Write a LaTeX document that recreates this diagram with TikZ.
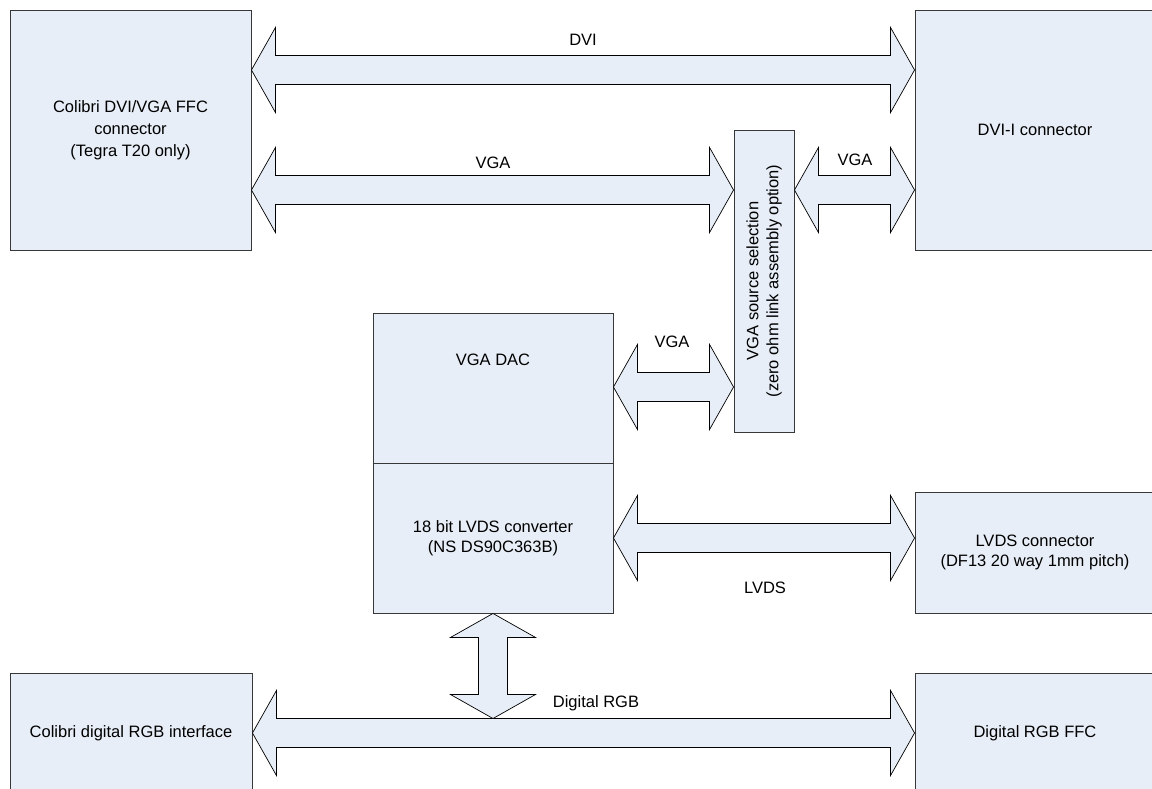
\documentclass[tikz,border=0pt]{standalone}
\usepackage{fontspec}
\setmainfont{Liberation Sans}
\usetikzlibrary{calc}
\definecolor{fillc}{RGB}{232,238,247}
\definecolor{linec}{RGB}{55,55,55}
\tikzset{
  box/.style={draw=linec, fill=fillc, line width=0.9pt, inner sep=0pt, align=center, font=\fontsize{16.5}{20}\selectfont},
  arr/.style={draw=black, fill=fillc, line width=0.7pt, line join=miter},
  lbl/.style={font=\fontsize{16.5}{20}\selectfont, inner sep=0pt},
}
\newcommand{\dblH}[2]{\draw[arr] let \p1=#1, \p2=#2 in
  (\x1,\y1) -- ++(24pt,42.5pt) -- ++(0,-28pt) -- (\x2-24pt,\y1+14.5pt) -- ++(0,28pt)
  -- (\x2,\y1) -- ++(-24pt,-42.5pt) -- ++(0,28pt) -- (\x1+24pt,\y1-14.5pt) -- ++(0,-28pt) -- cycle;}
\newcommand{\dblV}[2]{\draw[arr] let \p1=#1, \p2=#2 in
  (\x1,\y1) -- ++(42.5pt,-24pt) -- ++(-28pt,0) -- (\x1+14.5pt,\y2+24pt) -- ++(28pt,0)
  -- (\x1,\y2) -- ++(-42.5pt,24pt) -- ++(28pt,0) -- (\x1-14.5pt,\y1-24pt) -- ++(-28pt,0) -- cycle;}
\begin{document}
\begin{tikzpicture}[x=1pt,y=-1pt]
\fill[white] (0,0) rectangle (1152,789);
\clip (0,0) rectangle (1152,789);
% boxes
\node[box, minimum width=241pt, minimum height=240pt, font=\fontsize{16.5}{22}\selectfont] (A) at (130.5,130) {Colibri DVI/VGA FFC\\connector\\(Tegra T20 only)};
\node[box, minimum width=240pt, minimum height=240pt] (B) at (1035,130) {DVI-I connector};
\node[box, rotate=90, minimum width=302pt, minimum height=60pt] (S) at (764,281) {VGA source selection\\(zero ohm link assembly option)};
\node[box, minimum width=240pt, minimum height=150pt] (D) at (493,388) {};
\node[lbl] (Dt) at ([yshift=28pt]D.center) {VGA DAC};
\node[box, minimum width=240pt, minimum height=150pt] (L) at (493,538) {18 bit LVDS converter\\(NS DS90C363B)};
\node[box, minimum width=240pt, minimum height=121pt] (LC) at (1035,552.5) {LVDS connector\\(DF13 20 way 1mm pitch)};
\node[box, minimum width=242pt, minimum height=120pt] (CR) at (131,733) {Colibri digital RGB interface};
\node[box, minimum width=240pt, minimum height=120pt] (F) at (1035,733) {Digital RGB FFC};
% arrow levels
\coordinate (ydvi) at (0,70);
\coordinate (yvga) at (0,190);
\coordinate (ydac) at (0,387);
\coordinate (ylvds) at (0,538);
\coordinate (yrgb) at (0,733);
\coordinate (yrgbtop) at (0,718.5);
% arrows
\dblH{(A.east |- ydvi)}{(B.west |- ydvi)}
\dblH{(A.east |- yvga)}{(S.north |- yvga)}
\dblH{(S.south |- yvga)}{(B.west |- yvga)}
\dblH{(D.east |- ydac)}{(S.north |- ydac)}
\dblH{(L.east |- ylvds)}{(LC.west |- ylvds)}
\dblH{(CR.east |- yrgb)}{(F.west |- yrgb)}
\dblV{(L.south)}{(L.south |- yrgbtop)}
% labels
\node[lbl] (l1) at (583,40) {DVI};
\node[lbl] (l2) at (493,163) {VGA};
\node[lbl] (l3) at (855,160) {VGA};
\node[lbl] (l4) at (672,342) {VGA};
\node[lbl] (l5) at (765,588) {LVDS};
\node[lbl] (l6) at (596,703) {Digital RGB};
\end{tikzpicture}
\end{document}
